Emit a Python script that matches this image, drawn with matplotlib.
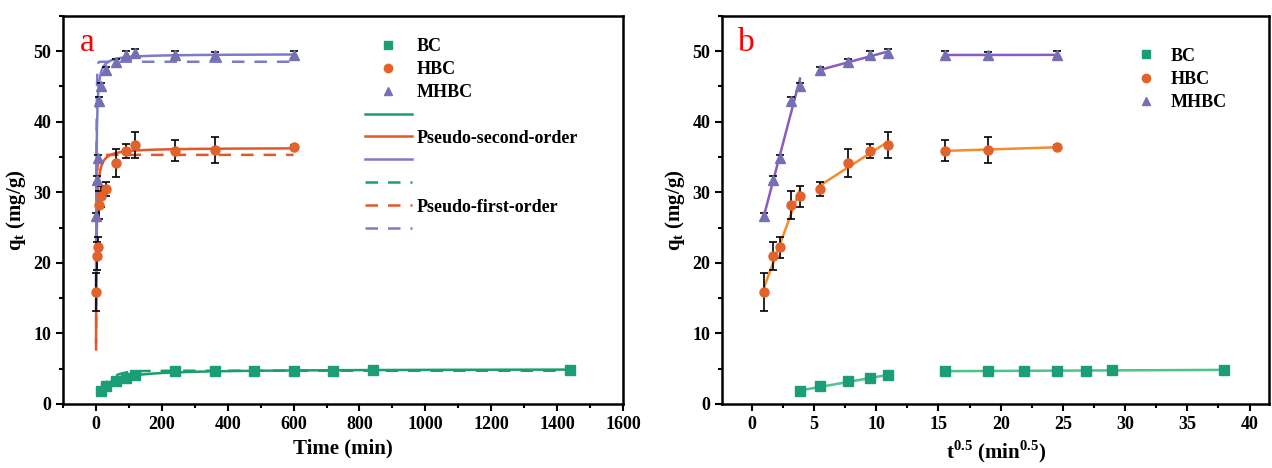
import numpy as np
import matplotlib
matplotlib.use('Agg')
import matplotlib.pyplot as plt
from matplotlib.lines import Line2D
from matplotlib.ticker import MultipleLocator

plt.rcParams['font.family'] = ['Liberation Serif', 'DejaVu Serif']
plt.rcParams['font.weight'] = 'bold'
plt.rcParams['mathtext.fontset'] = 'custom'
plt.rcParams['mathtext.rm'] = 'Liberation Serif:bold'
plt.rcParams['mathtext.bf'] = 'Liberation Serif:bold'

# sampling times (min)
t_bc = [15, 30, 60, 90, 120, 240, 360, 480, 600, 720, 840, 1440]
t_hm = [1, 3, 5, 10, 15, 30, 60, 90, 120, 240, 360, 600]

# uptake q_t (mg/g) and error bars
q_bc = [1.8, 2.5, 3.2, 3.6, 4.1, 4.6, 4.7, 4.7, 4.7, 4.7, 4.8, 4.8]
e_bc = [0.3, 0.3, 0.3, 0.3, 0.3, 0.3, 0.3, 0.3, 0.3, 0.3, 0.3, 0.3]
q_hbc = [15.8, 21.0, 22.2, 28.2, 29.4, 30.5, 34.2, 35.8, 36.7, 35.9, 36.0, 36.4]
e_hbc = [2.7, 2.0, 1.5, 2.0, 1.5, 1.0, 2.0, 1.0, 1.8, 1.5, 1.8, 0.3]
q_mhbc = [26.6, 31.8, 34.8, 43.0, 45.0, 47.3, 48.4, 49.5, 49.8, 49.5, 49.4, 49.5]
e_mhbc = [0.5, 0.5, 0.5, 0.5, 0.5, 0.5, 0.5, 0.5, 0.5, 0.5, 0.5, 0.5]

# kinetic fit parameters (qe, k)
pfo = {'BC': (4.7, 0.032), 'HBC': (35.3, 0.60), 'MHBC': (48.5, 0.79)}
pso = {'BC': (4.95, 0.0077), 'HBC': (36.3, 0.0217), 'MHBC': (49.6, 0.0233)}

# intra-particle diffusion segments (index ranges of points)
seg_bc = [(0, 5), (5, 12)]
seg_hm = [(0, 5), (5, 9), (9, 12)]

mk_col = {'BC': '#1b9e77', 'HBC': '#e2622b', 'MHBC': '#7570b3'}
la_col = {'BC': '#1a9e6a', 'HBC': '#e4572a', 'MHBC': '#7b7bc9'}
lb_col = {'BC': '#4cc48c', 'HBC': '#f58b2d', 'MHBC': '#8a5cbf'}
marker = {'BC': 's', 'HBC': 'o', 'MHBC': '^'}

series = {'BC': (t_bc, q_bc, e_bc), 'HBC': (t_hm, q_hbc, e_hbc),
          'MHBC': (t_hm, q_mhbc, e_mhbc)}


def style(ax):
    for s in ax.spines.values():
        s.set_linewidth(1.8)
    ax.tick_params(which='both', direction='out', width=1.5, labelsize=13,
                   top=False, right=False)
    ax.tick_params(which='major', length=5)
    ax.tick_params(which='minor', length=3)
    ax.set_ylim(0, 55)
    ax.yaxis.set_major_locator(MultipleLocator(10))
    ax.yaxis.set_minor_locator(MultipleLocator(5))
    ax.set_ylabel(r'q$_\mathregular{t}$ (mg/g)', fontsize=15, fontweight='bold')


fig = plt.figure(figsize=(12.72, 4.68), dpi=100)
ax1 = fig.add_axes([0.0495, 0.137, 0.4403, 0.829])
ax2 = fig.add_axes([0.5676, 0.137, 0.4304, 0.829])

# panel a: kinetic models
for name in ['BC', 'HBC', 'MHBC']:
    t, q, e = series[name]
    t0 = 15 if name == 'BC' else 0.4
    tt = np.linspace(t0, t[-1], 3000)
    tt = np.unique(np.concatenate([np.geomspace(t0, 20, 300), tt]))
    qe, k = pso[name]
    ax1.plot(tt, qe ** 2 * k * tt / (1 + qe * k * tt), '-', color=la_col[name],
             lw=1.8, zorder=2)
    qe, k = pfo[name]
    ax1.plot(tt, qe * (1 - np.exp(-k * tt)), '--', color=la_col[name],
             lw=1.8, dashes=(5, 4), zorder=2)
    ax1.errorbar(t, q, yerr=e, fmt=marker[name], color=mk_col[name], ms=6.5,
                 ecolor='black', elinewidth=1.2, capsize=3, capthick=1.2, zorder=3)

ax1.set_xlim(-100, 1600)
ax1.xaxis.set_major_locator(MultipleLocator(200))
ax1.xaxis.set_minor_locator(MultipleLocator(100))
ax1.set_xlabel('Time (min)', fontsize=15, fontweight='bold')
style(ax1)
ax1.text(0.03, 0.97, 'a', transform=ax1.transAxes, color='red', fontsize=24,
         fontweight='normal', va='top')

h = [Line2D([], [], ls='none', marker=marker[n], color=mk_col[n], ms=6)
     for n in ['BC', 'HBC', 'MHBC']]
h += [Line2D([], [], ls='-', color=la_col[n], lw=1.8) for n in ['BC', 'HBC', 'MHBC']]
h += [Line2D([], [], ls='--', dashes=(5, 4), color=la_col[n], lw=1.8)
      for n in ['BC', 'HBC', 'MHBC']]
labs = ['BC', 'HBC', 'MHBC', '', 'Pseudo-second-order', '', '', 'Pseudo-first-order', '']
ax1.legend(h, labs, loc='upper left', bbox_to_anchor=(0.51, 0.985), frameon=False,
           prop={'size': 13, 'weight': 'bold'}, handlelength=2.6, labelspacing=0.33,
           handletextpad=0.25)

# panel b: intra-particle diffusion
for name in ['BC', 'HBC', 'MHBC']:
    t, q, e = series[name]
    x = np.sqrt(t)
    segs = seg_bc if name == 'BC' else seg_hm
    for i0, i1 in segs:
        xs = x[i0:i1]
        p = np.polyfit(xs, q[i0:i1], 1)
        ax2.plot(xs[[0, -1]], np.polyval(p, xs[[0, -1]]), '-', color=lb_col[name],
                 lw=1.8, zorder=2)
    ax2.errorbar(x, q, yerr=e, fmt=marker[name], color=mk_col[name], ms=6.5,
                 ecolor='black', elinewidth=1.2, capsize=3, capthick=1.2, zorder=3)

ax2.set_xlim(-2.4, 41.6)
ax2.xaxis.set_major_locator(MultipleLocator(5))
ax2.xaxis.set_minor_locator(MultipleLocator(2.5))
ax2.set_xlabel(r't$^\mathregular{0.5}$ (min$^\mathregular{0.5}$)', fontsize=15,
               fontweight='bold')
style(ax2)
ax2.text(0.03, 0.97, 'b', transform=ax2.transAxes, color='red', fontsize=24,
         fontweight='normal', va='top')
ax2.legend(h[:3], labs[:3], loc='upper left', bbox_to_anchor=(0.72, 0.96),
           frameon=False, prop={'size': 13, 'weight': 'bold'}, handlelength=1.5,
           labelspacing=0.35, handletextpad=0.6)

fig.canvas.draw()
for ax in (ax1, ax2):
    for lbl in ax.get_xticklabels() + ax.get_yticklabels():
        lbl.set_fontweight('bold')

fig.savefig('out.png', dpi=100)
